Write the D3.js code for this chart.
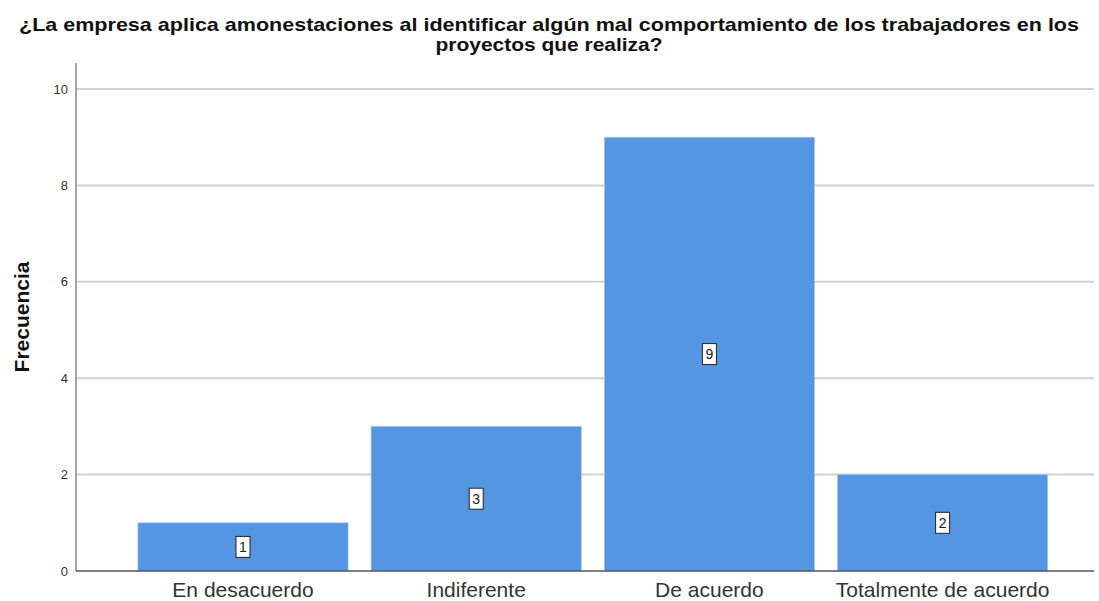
<!DOCTYPE html>
<html>
<head>
<meta charset="utf-8">
<script src="https://cdn.jsdelivr.net/npm/d3@7"></script>
<style>
  body { margin: 0; background: #fff; }
  text { font-family: "Liberation Sans", Arial, sans-serif; }
</style>
</head>
<body>
<svg width="1099" height="601"></svg>
<script>
const categories = ["En desacuerdo", "Indiferente", "De acuerdo", "Totalmente de acuerdo"]
const values = [1, 3, 9, 2]
const y_ticks = [0, 2, 4, 6, 8, 10]
const title_lines = ["¿La empresa aplica amonestaciones al identificar algún mal comportamiento de los trabajadores en los", "proyectos que realiza?"]
const title_widths = [1060, 227]

const bar_color = "#5596e3"
const axis_left = 76
const plot_right = 1094

const svg = d3.select("svg")

const x = d3.scaleBand()
    .domain(categories)
    .range([126.4, 1059.2])
    .paddingInner(0.0986)
    .paddingOuter(0.0493)

const y = d3.scaleLinear()
    .domain([0, 10])
    .range([571, 89])

// gridlines
svg.append("g")
    .selectAll("line")
    .data(y_ticks.filter(t => t > 0))
    .enter()
    .append("line")
    .attr("x1", axis_left)
    .attr("x2", plot_right)
    .attr("y1", t => y(t))
    .attr("y2", t => y(t))
    .attr("stroke", "#d2d2d2")
    .attr("stroke-width", 2)

// bars
svg.append("g")
    .selectAll("rect")
    .data(values)
    .enter()
    .append("rect")
    .attr("x", (v, i) => x(categories[i]))
    .attr("y", v => y(v))
    .attr("width", x.bandwidth())
    .attr("height", v => y(0) - y(v))
    .attr("fill", bar_color)
    .attr("stroke", "#a9c9f0")
    .attr("stroke-width", 0.6)

// value labels
const labels = svg.append("g")
    .selectAll("g")
    .data(values)
    .enter()
    .append("g")
    .attr("transform", (v, i) => `translate(${x(categories[i]) + x.bandwidth() / 2},${y(v / 2)})`)

labels.append("rect")
    .attr("x", -7)
    .attr("y", -10.5)
    .attr("width", 14)
    .attr("height", 21)
    .attr("fill", "white")
    .attr("stroke", "#222")
    .attr("stroke-width", 1)

labels.append("text")
    .attr("y", 5)
    .attr("text-anchor", "middle")
    .attr("font-size", 14)
    .attr("fill", "#222")
    .text(v => v)

// y axis
const y_axis = svg.append("g")
    .attr("transform", `translate(${axis_left},0)`)
    .call(d3.axisLeft(y).tickValues(y_ticks).tickSize(0).tickPadding(8))

y_axis.select(".domain").remove()
y_axis.selectAll("text")
    .attr("font-size", 13)
    .attr("font-family", "Liberation Sans, Arial, sans-serif")
    .attr("fill", "#333")

svg.append("line")
    .attr("x1", axis_left)
    .attr("x2", axis_left)
    .attr("y1", 63)
    .attr("y2", y(0))
    .attr("stroke", "#888")
    .attr("stroke-width", 1.5)

// x axis
const x_axis = svg.append("g")
    .attr("transform", `translate(0,${y(0)})`)
    .call(d3.axisBottom(x).tickSize(0).tickPadding(11))

x_axis.select(".domain").remove()
x_axis.selectAll("text")
    .attr("font-size", 21)
    .attr("font-family", "Liberation Sans, Arial, sans-serif")
    .attr("fill", "#333")

svg.append("line")
    .attr("x1", axis_left)
    .attr("x2", plot_right)
    .attr("y1", y(0))
    .attr("y2", y(0))
    .attr("stroke", "#555")
    .attr("stroke-width", 1.5)

// axis title
svg.append("text")
    .attr("transform", "translate(29,317) rotate(-90)")
    .attr("text-anchor", "middle")
    .attr("font-size", 21)
    .attr("font-weight", "bold")
    .attr("fill", "#111")
    .text("Frecuencia")

// title
svg.append("g")
    .selectAll("text")
    .data(title_lines)
    .enter()
    .append("text")
    .attr("x", 549)
    .attr("y", (d, i) => 31 + i * 20)
    .attr("text-anchor", "middle")
    .attr("font-size", 19)
    .attr("font-weight", "bold")
    .attr("fill", "#111")
    .attr("textLength", (d, i) => title_widths[i])
    .attr("lengthAdjust", "spacingAndGlyphs")
    .text(d => d)
</script>
</body>
</html>
